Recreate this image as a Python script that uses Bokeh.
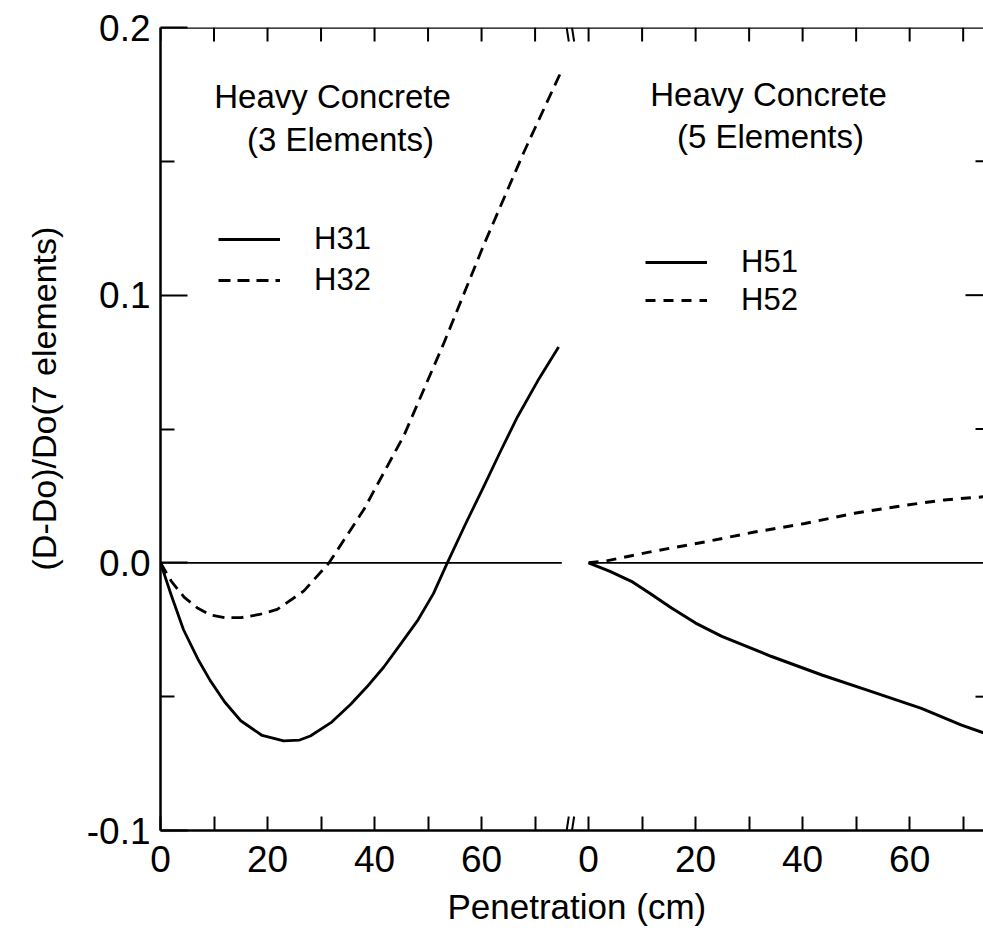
from bokeh.plotting import figure
from bokeh.models import LinearAxis, FixedTicker, Label, Range1d, Legend, LegendItem, Span, Title
from bokeh.embed import file_html
from bokeh.resources import INLINE

# ---------------- data ----------------
# Left panel: Heavy Concrete (3 elements)
h31_x = [0, 2, 4.3, 7, 9.3, 12, 15, 19, 23, 26, 28, 32, 35.5, 38.5, 41.7, 45, 48, 51, 53.6, 57, 60.4, 63.5, 66.7, 70.5, 74.4]
h31_y = [0, -0.012, -0.025, -0.036, -0.044, -0.052, -0.059, -0.0645, -0.0665, -0.0662, -0.0647, -0.0595,
         -0.0529, -0.0465, -0.039, -0.030, -0.0217, -0.0115, 0.0, 0.0145, 0.0285, 0.0415, 0.0545, 0.068, 0.0806]
h32_x = [0, 2, 4.4, 7, 9.3, 12, 15, 18.5, 21.8, 26.8, 31.5, 38.0, 45.5, 53.0, 60.4, 67.9, 75.1]
h32_y = [0, -0.0068, -0.0128, -0.017, -0.0195, -0.0205, -0.0205, -0.0193, -0.0174, -0.0105, 0.0,
         0.0199, 0.0476, 0.0823, 0.1187, 0.1534, 0.1845]

# Right panel: Heavy Concrete (5 elements)
h51_x = [0, 4, 8.0, 11.5, 15.5, 20, 24.9, 34.2, 43.6, 52.9, 62.2, 69.7, 73.8]
h51_y = [0, -0.0032, -0.0069, -0.0115, -0.0169, -0.0225, -0.0275, -0.035, -0.0419, -0.0481, -0.0544, -0.0606, -0.0635]
h52_x = [0, 3.0, 12.3, 21.7, 31.0, 40.4, 49.7, 59.1, 66.5, 74.0]
h52_y = [0, 0.0006, 0.0044, 0.0078, 0.0115, 0.0147, 0.0185, 0.0215, 0.0235, 0.0247]

panel_ticks = [0, 20, 40, 60]
panel_minor = [10, 30, 50, 70]
y_ticks = [-0.1, 0.0, 0.1, 0.2]
y_minor = [-0.05, 0.05, 0.15]
y_labels = ["-0.1", "0.0", "0.1", "0.2"]

# ---------------- layout of the broken x axis ----------------
RIGHT_OFFSET = 80      # where the right panel's origin sits on the shared axis
LEFT_END = 75          # end of the left panel
BREAK_AT = 76.6        # position of the axis break marks
X_END = 153.8
Y_MIN, Y_MAX = -0.1, 0.2

W, H = 983, 940
B_LEFT, B_TOP, B_BOTTOM = 160, 27, 110
FRAME_W = W - B_LEFT
FRAME_H = H - B_TOP - B_BOTTOM
PX_X = FRAME_W / X_END            # px per x unit
PX_Y = FRAME_H / (Y_MAX - Y_MIN)  # px per y unit

FONT = "Liberation Sans"

p = figure(width=W, height=H, x_range=Range1d(0, X_END), y_range=Range1d(Y_MIN, Y_MAX),
           output_backend="svg", toolbar_location=None,
           x_axis_location=None, y_axis_location=None,
           min_border_left=B_LEFT, min_border_right=0, min_border_top=B_TOP, min_border_bottom=B_BOTTOM)
p.grid.visible = False
p.outline_line_color = None
p.background_fill_color = "white"
p.border_fill_color = "white"

def rshift(xs):
    return [x + RIGHT_OFFSET for x in xs]

major_x = panel_ticks + rshift(panel_ticks)
minor_x = panel_minor + rshift(panel_minor)
overrides = {t + RIGHT_OFFSET: str(t) for t in panel_ticks}
overrides.update({t: str(t) for t in panel_ticks})

def style_axis(ax, tin_major, tin_minor):
    ax.axis_line_width = 2.5
    ax.axis_line_color = "black"
    ax.major_tick_out = 0
    ax.minor_tick_out = 0
    ax.major_tick_in = tin_major
    ax.minor_tick_in = tin_minor
    ax.major_tick_line_width = 2
    ax.minor_tick_line_width = 2
    ax.major_tick_line_color = "black"
    ax.minor_tick_line_color = "black"
    ax.major_label_text_font = FONT
    ax.major_label_text_font_size = "37px"
    ax.major_label_text_color = "black"

# bottom axis
xb = LinearAxis(ticker=FixedTicker(ticks=major_x, minor_ticks=minor_x), major_label_overrides=overrides)
style_axis(xb, 14, 14)
xb.major_label_standoff = 15
p.add_layout(xb, "below")

# left axis
yl = LinearAxis(ticker=FixedTicker(ticks=y_ticks, minor_ticks=y_minor),
                major_label_overrides={t: s for t, s in zip(y_ticks, y_labels)})
style_axis(yl, 27, 14)
yl.major_label_standoff = 10
p.add_layout(yl, "left")

# axis titles
p.add_layout(Title(text="(D-Do)/Do(7 elements)", align="left", offset=260, standoff=42,
                   text_font=FONT, text_font_size="34px", text_font_style="normal",
                   text_color="black"), "left")
p.add_layout(Title(text="Penetration (cm)", align="left", offset=287, standoff=20,
                   text_font=FONT, text_font_size="35px", text_font_style="normal",
                   text_color="black"), "below")

# top frame line with inward ticks
p.add_layout(Span(location=Y_MAX, dimension="width", line_color="black", line_width=2.5))
top_ticks = major_x + minor_x
p.segment(x0=top_ticks, y0=[Y_MAX] * len(top_ticks), x1=top_ticks,
          y1=[Y_MAX - 14 / PX_Y] * len(top_ticks), line_color="black", line_width=2)

# inward ticks on the right edge (the right frame line lies just outside the picture)
r_major = [0.1]
r_minor = y_minor
p.segment(x0=[X_END - 18 / PX_X] * len(r_major), y0=r_major, x1=[X_END] * len(r_major), y1=r_major,
          line_color="black", line_width=2)
p.segment(x0=[X_END - 8 / PX_X] * len(r_minor), y0=r_minor, x1=[X_END] * len(r_minor), y1=r_minor,
          line_color="black", line_width=2)

# zero reference lines for each panel
p.line([0, LEFT_END], [0, 0], line_color="black", line_width=1.6)
p.line([RIGHT_OFFSET, X_END], [0, 0], line_color="black", line_width=1.6)

# axis break marks
for y0, y1 in [(Y_MAX, Y_MAX - 14 / PX_Y), (Y_MIN, Y_MIN + 14 / PX_Y)]:
    p.segment(x0=[BREAK_AT - 0.7, BREAK_AT + 0.3], y0=[y0, y0],
              x1=[BREAK_AT - 0.3, BREAK_AT + 0.7], y1=[y1, y1],
              line_color="black", line_width=2)

# curves
r31 = p.line(h31_x, h31_y, line_color="black", line_width=2.8, line_join="round")
r32 = p.line(h32_x, h32_y, line_color="black", line_width=2.8, line_dash="12 7")
r51 = p.line(rshift(h51_x), h51_y, line_color="black", line_width=3, line_join="round")
r52 = p.line(rshift(h52_x), h52_y, line_color="black", line_width=3, line_dash="10 8")

def make_legend(items, x, y, spacing):
    lg = Legend(items=items, location=(x, y), orientation="vertical",
                border_line_color=None, background_fill_alpha=0,
                padding=0, margin=0, spacing=spacing, glyph_width=62, glyph_height=30,
                label_height=30, label_standoff=34,
                label_text_font=FONT, label_text_font_size="31px", label_text_color="black")
    p.add_layout(lg, "center")

make_legend([LegendItem(label="H31", renderers=[r31]), LegendItem(label="H32", renderers=[r32])],
            218 - B_LEFT, 532, 5)
make_legend([LegendItem(label="H51", renderers=[r51]), LegendItem(label="H52", renderers=[r52])],
            645 - B_LEFT, 512, 2)

def note(text, x, y, size="33px"):
    # x, y are picture pixel positions of the text centre
    p.add_layout(Label(x=x - B_LEFT, y=(H - B_BOTTOM) - y, x_units="screen", y_units="screen", text=text,
                       text_font=FONT, text_font_size=size, text_align="center",
                       text_baseline="middle", text_color="black"))

note("Heavy Concrete", 332, 96)
note("(3 Elements)", 340, 139)
note("Heavy Concrete", 768, 94)
note("(5 Elements)", 770, 136)

open("out.html", "w").write(file_html(p, INLINE))
